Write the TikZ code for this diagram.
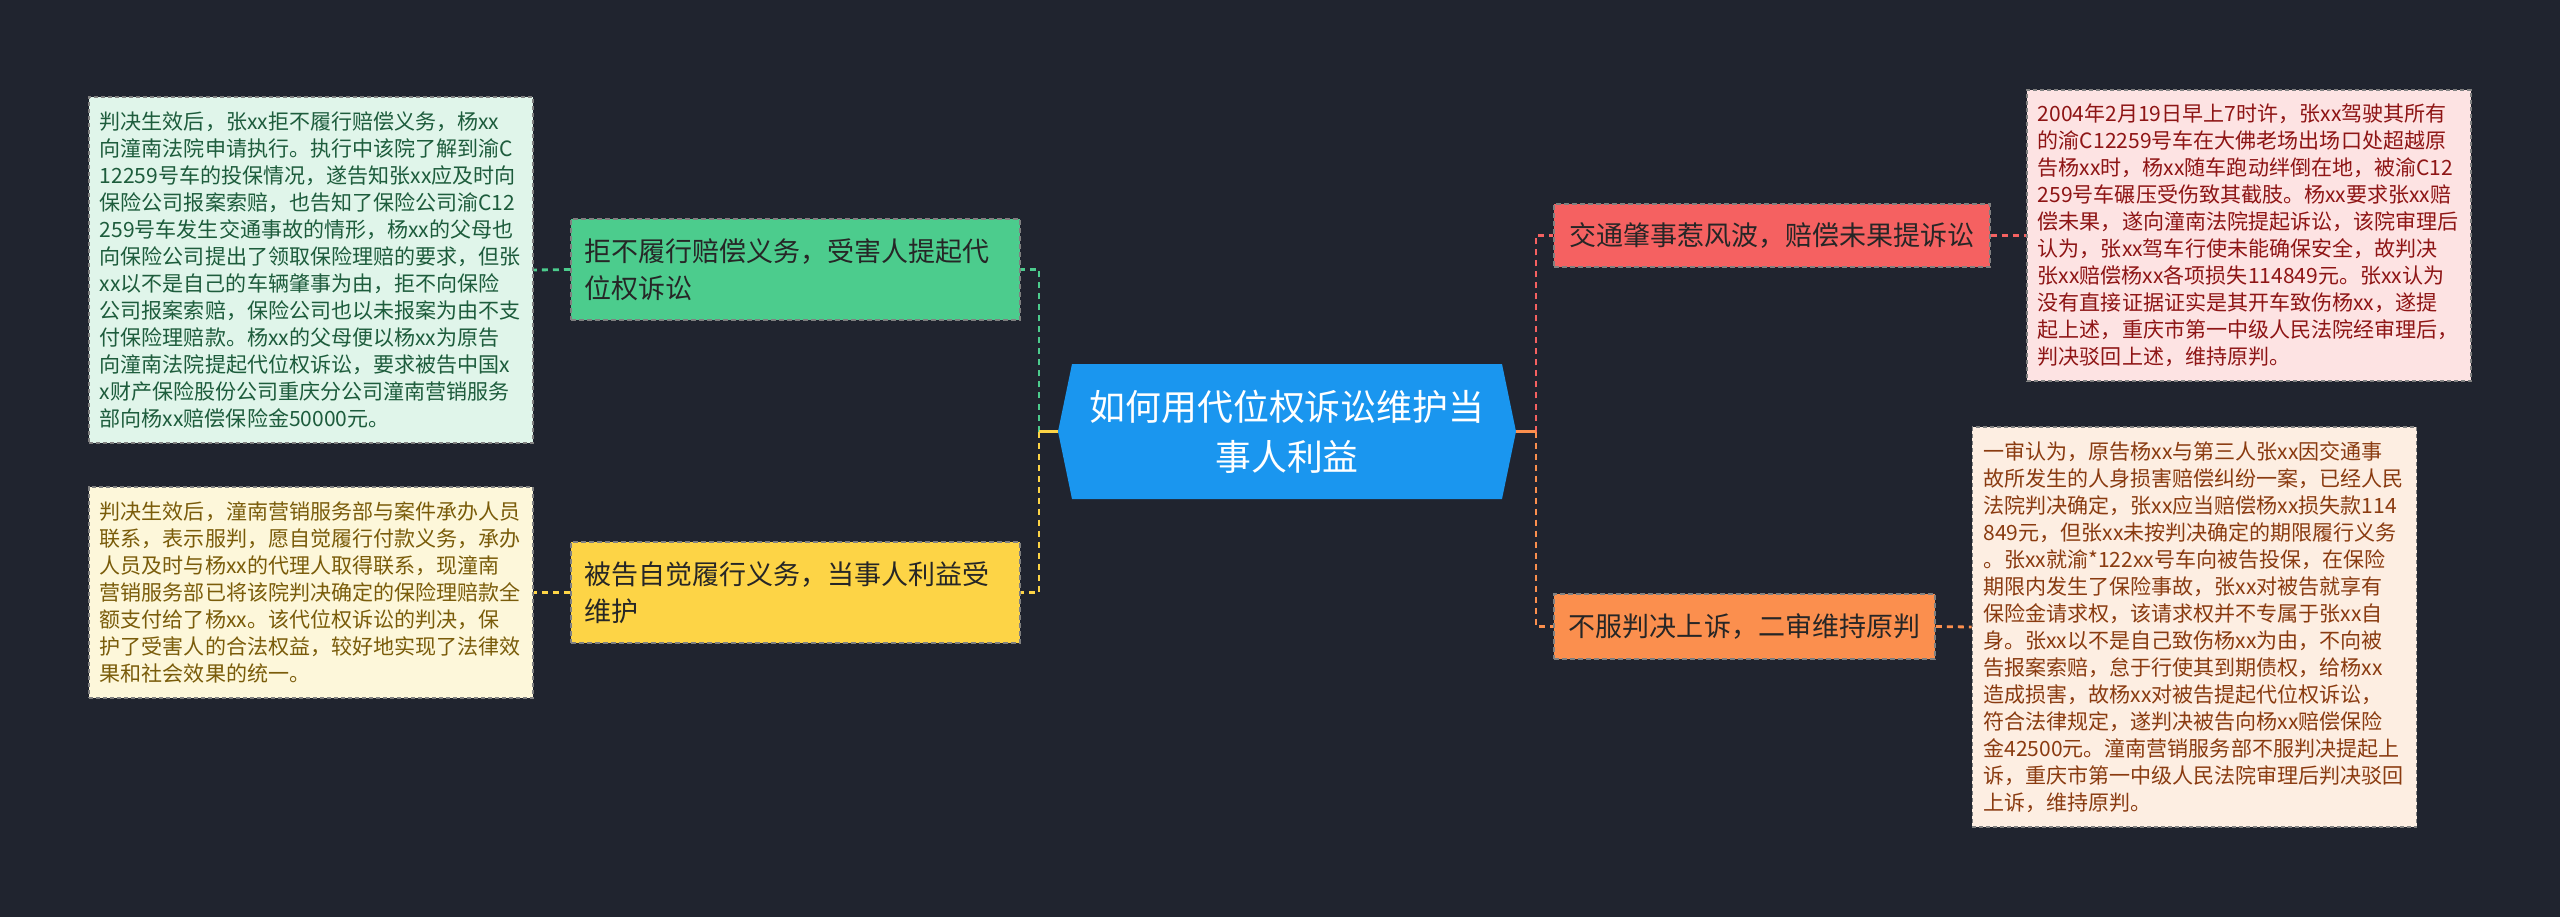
\documentclass[tikz,border=0pt]{standalone}
\usepackage{fontspec}
\setmainfont{Noto Sans CJK SC}
\usetikzlibrary{calc, positioning}

\definecolor{bgNavy}{HTML}{20242F}
\definecolor{hubBlue}{HTML}{1A96EF}
\definecolor{grnFill}{HTML}{4CCC8D}
\definecolor{yelFill}{HTML}{FDD446}
\definecolor{redFill}{HTML}{F56161}
\definecolor{orgFill}{HTML}{FB8F4E}
\definecolor{grnPale}{HTML}{E0F5EA}
\definecolor{grnInk}{HTML}{1D5C3C}
\definecolor{yelPale}{HTML}{FDF7DA}
\definecolor{yelInk}{HTML}{7A5C0A}
\definecolor{redPale}{HTML}{FDE3E3}
\definecolor{redInk}{HTML}{8E1515}
\definecolor{orgPale}{HTML}{FDEEE2}
\definecolor{orgInk}{HTML}{8A3B10}

\tikzset{
  hubText/.style={text=white, align=center,
    font=\fontsize{10.2pt}{14.2pt}\selectfont},
  branchBox/.style={draw=black!50, dash pattern=on 0.05cm off 0.03cm,
    line width=0.5pt, text=black!85, align=left, inner xsep=0.14cm,
    font=\fontsize{7.68pt}{10.5pt}\selectfont},
  detailBox/.style={draw=black!50, dash pattern=on 0.04cm off 0.03cm,
    line width=0.4pt, align=left, inner xsep=0.11cm, text width=4.22cm,
    font=\fontsize{5.98pt}{7.68pt}\selectfont},
  link/.style={line width=0.028cm, dash pattern=on 0.06cm off 0.05cm}
}

\begin{document}
\begin{tikzpicture}[x=0.01cm, y=-0.01cm]
\useasboundingbox[fill=bgNavy] (0,0) rectangle (2560,917);

\def\hubHalfW{229}
\def\hubHalfH{67.5}
\def\hubTip{14}

% central topic
\coordinate (hub) at (1287,431.5);
\coordinate (hubL) at ($(hub)+(-\hubHalfW,0)$);
\coordinate (hubR) at ($(hub)+(\hubHalfW,0)$);
\fill[hubBlue] (hubL)
  -- ($(hub)+({-\hubHalfW+\hubTip},-\hubHalfH)$)
  -- ($(hub)+({\hubHalfW-\hubTip},-\hubHalfH)$)
  -- (hubR)
  -- ($(hub)+({\hubHalfW-\hubTip},\hubHalfH)$)
  -- ($(hub)+({-\hubHalfW+\hubTip},\hubHalfH)$) -- cycle;
\node[hubText] (hubNode) at (hub) {如何用代位权诉讼维护当\\事人利益};

\coordinate (jL) at (1039,431.5);
\coordinate (jR) at (1536,431.5);

% left branches
\node[branchBox, fill=grnFill, text width=4.21cm, minimum height=1.01cm]
  (refuse) at (795.5,269.5) {拒不履行赔偿义务，受害人提起代\\位权诉讼};
\node[branchBox, fill=yelFill, text width=4.21cm, minimum height=1.01cm]
  (comply) at (795.5,592.5) {被告自觉履行义务，当事人利益受\\维护};

% right branches
\node[branchBox, fill=redFill, inner xsep=0.155cm, minimum height=0.63cm]
  (crash) at (1772,235.5) {交通肇事惹风波，赔偿未果提诉讼};
\node[branchBox, fill=orgFill, inner xsep=0.15cm, minimum height=0.65cm]
  (appeal) at (1744.5,626.5) {不服判决上诉，二审维持原判};

% detail texts
\node[detailBox, fill=grnPale, text=grnInk, minimum height=3.46cm]
  (refuseTxt) at (311,270) {判决生效后，张xx拒不履行赔偿义务，杨xx\\
向潼南法院申请执行。执行中该院了解到渝C\\
12259号车的投保情况，遂告知张xx应及时向\\
保险公司报案索赔，也告知了保险公司渝C12\\
259号车发生交通事故的情形，杨xx的父母也\\
向保险公司提出了领取保险理赔的要求，但张\\
xx以不是自己的车辆肇事为由，拒不向保险\\
公司报案索赔，保险公司也以未报案为由不支\\
付保险理赔款。杨xx的父母便以杨xx为原告\\
向潼南法院提起代位权诉讼，要求被告中国x\\
x财产保险股份公司重庆分公司潼南营销服务\\
部向杨xx赔偿保险金50000元。};

\node[detailBox, fill=yelPale, text=yelInk, minimum height=2.11cm]
  (complyTxt) at (311,592.5) {判决生效后，潼南营销服务部与案件承办人员\\
联系，表示服判，愿自觉履行付款义务，承办\\
人员及时与杨xx的代理人取得联系，现潼南\\
营销服务部已将该院判决确定的保险理赔款全\\
额支付给了杨xx。该代位权诉讼的判决，保\\
护了受害人的合法权益，较好地实现了法律效\\
果和社会效果的统一。};

\node[detailBox, fill=redPale, text=redInk, minimum height=2.91cm]
  (crashTxt) at (2249,235.5) {2004年2月19日早上7时许，张xx驾驶其所有\\
的渝C12259号车在大佛老场出场口处超越原\\
告杨xx时，杨xx随车跑动绊倒在地，被渝C12\\
259号车碾压受伤致其截肢。杨xx要求张xx赔\\
偿未果，遂向潼南法院提起诉讼，该院审理后\\
认为，张xx驾车行使未能确保安全，故判决\\
张xx赔偿杨xx各项损失114849元。张xx认为\\
没有直接证据证实是其开车致伤杨xx，遂提\\
起上述，重庆市第一中级人民法院经审理后，\\
判决驳回上述，维持原判。};

\node[detailBox, fill=orgPale, text=orgInk, minimum height=4.00cm]
  (appealTxt) at (2194.5,627) {一审认为，原告杨xx与第三人张xx因交通事\\
故所发生的人身损害赔偿纠纷一案，已经人民\\
法院判决确定，张xx应当赔偿杨xx损失款114\\
849元，但张xx未按判决确定的期限履行义务\\
。张xx就渝*122xx号车向被告投保，在保险\\
期限内发生了保险事故，张xx对被告就享有\\
保险金请求权，该请求权并不专属于张xx自\\
身。张xx以不是自己致伤杨xx为由，不向被\\
告报案索赔，怠于行使其到期债权，给杨xx\\
造成损害，故杨xx对被告提起代位权诉讼，\\
符合法律规定，遂判决被告向杨xx赔偿保险\\
金42500元。潼南营销服务部不服判决提起上\\
诉，重庆市第一中级人民法院审理后判决驳回\\
上诉，维持原判。};

% connectors
\draw[link, draw=grnFill] (jL) |- (refuse.east);
\draw[link, draw=yelFill] (jL) |- (comply.east);
\draw[line width=0.028cm, draw=yelFill] (hubL) -- (jL);
\draw[link, draw=redFill] (jR) |- (crash.west);
\draw[link, draw=orgFill] (jR) |- (appeal.west);
\draw[line width=0.028cm, draw=orgFill] (hubR) -- (jR);

\draw[link, draw=grnFill] (refuse.west) -- (refuseTxt.east);
\draw[link, draw=yelFill] (comply.west) -- (complyTxt.east);
\draw[link, draw=redFill] (crash.east) -- (crashTxt.west);
\draw[link, draw=orgFill] (appeal.east) -- (appealTxt.west);
\end{tikzpicture}
\end{document}
